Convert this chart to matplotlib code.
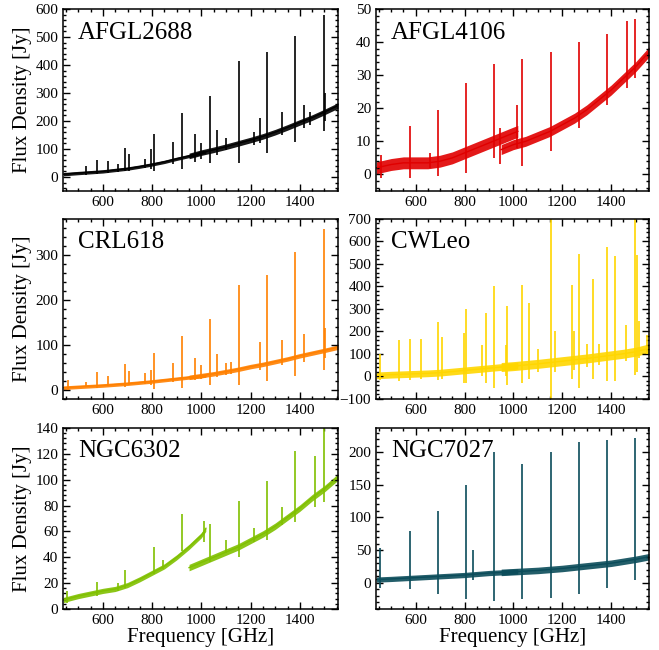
import matplotlib
matplotlib.use("Agg")
import matplotlib.pyplot as plt
from matplotlib.ticker import MultipleLocator

plt.rcParams['font.family'] = ['Liberation Serif', 'DejaVu Serif']

# frequency grids of the two detector bands (GHz)
SLW_FREQ = [440, 500, 550, 600, 650, 700, 750, 800, 850, 900, 950, 1000, 1018]
SSW_FREQ = [950, 1000, 1050, 1100, 1150, 1200, 1250, 1300, 1350, 1400, 1450, 1500, 1555]

NAMES = ["AFGL2688", "AFGL4106", "CRL618", "CWLeo", "NGC6302", "NGC7027"]
COLORS = ["#000000", "#e00000", "#ff8000", "#ffd600", "#80c000", "#0b4c5a"]

# continuum levels (Jy) on the grids above, and half-width of the noise band
afgl2688_slw = [10, 14, 17, 20, 25, 30, 37, 45, 54, 65, 75, 87, 90]
afgl2688_ssw = [75, 87, 97, 108, 120, 132, 145, 160, 177, 195, 212, 232, 255]
afgl2688_spread = [6, 10]
afgl2688_lines = [531, 576, 620, 660, 691, 708, 770, 797, 807, 886, 922, 974, 1000, 1037,
                  1062, 1100, 1152, 1215, 1239, 1267, 1327, 1382, 1416, 1440, 1497, 1504]
afgl2688_peaks = [40, 62, 58, 45, 105, 82, 65, 100, 155, 125, 230, 155, 120, 290,
                  168, 140, 415, 160, 212, 445, 232, 505, 258, 232, 580, 300]
afgl2688_dips = [8, 12, 15, 18, 20, 22, 33, 30, 20, 45, 30, 55, 65, 50,
                 80, 95, 50, 115, 120, 85, 150, 125, 175, 185, 165, 200]

afgl4106_slw = [2, 3, 3.5, 3.5, 3.5, 4, 5, 6.5, 8, 9.5, 11, 12.5, 13]
afgl4106_ssw = [7.5, 9, 10, 11.5, 13, 15, 17, 19.5, 22.5, 25.5, 29, 32.5, 37]
afgl4106_spread = [1.8, 1.5]
afgl4106_lines = [460, 576, 660, 691, 807, 922, 945, 1015, 1037, 1152, 1267, 1382, 1463, 1497]
afgl4106_peaks = [6, 14.5, 6.5, 19.5, 27.5, 33.5, 14, 21, 35, 37, 40, 42.5, 46.5, 47]
afgl4106_dips = [-1, -1, 2, -0.5, 0.5, 5, 3, 8, 2.5, 7, 14, 21, 26, 29]

crl618_slw = [5, 7, 8.5, 10, 12, 14, 16.5, 19, 22, 25, 28, 31, 32]
crl618_ssw = [28, 32, 36, 41, 46, 52, 57, 63, 69, 76, 82, 88, 95]
crl618_spread = [4, 5]
crl618_lines = [460, 531, 576, 620, 691, 708, 770, 797, 807, 886, 922, 974, 1000,
                1037, 1062, 1100, 1120, 1152, 1239, 1267, 1327, 1382, 1416, 1497, 1504]
crl618_peaks = [22, 18, 40, 30, 57, 43, 38, 45, 82, 60, 120, 70, 55,
                158, 80, 60, 62, 233, 107, 255, 110, 307, 125, 358, 138]
crl618_dips = [0, 6, 5, 8, 6, 12, 14, 12, 3, 18, 5, 22, 25,
               10, 28, 33, 35, 10, 45, 20, 55, 30, 62, 45, 70]

cwleo_slw = [5, 8, 10, 12, 14, 17, 22, 27, 32, 37, 42, 46, 48]
cwleo_ssw = [42, 46, 51, 56, 62, 68, 74, 80, 87, 94, 101, 110, 125]
cwleo_spread = [15, 20]
cwleo_lines = [455, 531, 576, 620, 691, 708, 797, 807, 870, 886, 922, 970, 975, 1037, 1062, 1100,
               1152, 1170, 1239, 1250, 1267, 1300, 1327, 1350, 1382, 1416, 1460, 1497, 1504, 1515, 1545]
cwleo_peaks = [100, 160, 165, 165, 240, 175, 195, 300, 140, 280, 400, 140, 315, 405, 325, 120,
               700, 200, 405, 200, 545, 145, 435, 145, 575, 535, 230, 700, 540, 245, 185]
cwleo_dips = [-15, -20, -15, -10, -15, -10, -30, -30, 0, -30, -50, 0, -40, -30, -10, 20,
              -100, 20, -10, 30, -50, 40, -10, 50, -20, -20, 70, 5, 20, 80, 100]

ngc6302_slw = [7, 10, 12, 14, 15.5, 18.5, 23, 28, 33, 40, 48, 57, 62]
ngc6302_ssw = [32, 36, 40, 44, 48, 53, 58, 64, 71, 78, 86, 93, 102]
ngc6302_spread = [2, 2.5]
ngc6302_lines = [455, 576, 660, 691, 807, 845, 922, 1010, 1037, 1100, 1152, 1215, 1267, 1327, 1382, 1463, 1497]
ngc6302_peaks = [14, 21, 20, 30, 48, 38, 73.5, 68, 66, 53, 83.5, 63, 99, 79, 122, 118.5, 141]
ngc6302_dips = [5, 10, 14, 16, 27, 31, 45, 52, 36, 43, 40, 52, 53, 65, 67, 79, 83]

ngc7027_slw = [5, 6, 7, 8, 9, 10, 11, 12, 13.5, 15, 16, 17, 17.5]
ngc7027_ssw = [16, 17, 18, 19, 20.5, 22, 24, 26, 28, 30, 33, 36, 40]
ngc7027_spread = [4, 5]
ngc7027_lines = [455, 576, 691, 807, 835, 922, 1037, 1152, 1267, 1382, 1497]
ngc7027_peaks = [53, 80, 110, 150, 51, 200, 182, 200, 216, 218, 222]
ngc7027_dips = [-8, -10, -17, -25, 5, -28, -25, -23, -17, -8, 5]

SOURCES = [
    (afgl2688_slw, afgl2688_ssw, afgl2688_spread, afgl2688_lines, afgl2688_peaks, afgl2688_dips),
    (afgl4106_slw, afgl4106_ssw, afgl4106_spread, afgl4106_lines, afgl4106_peaks, afgl4106_dips),
    (crl618_slw, crl618_ssw, crl618_spread, crl618_lines, crl618_peaks, crl618_dips),
    (cwleo_slw, cwleo_ssw, cwleo_spread, cwleo_lines, cwleo_peaks, cwleo_dips),
    (ngc6302_slw, ngc6302_ssw, ngc6302_spread, ngc6302_lines, ngc6302_peaks, ngc6302_dips),
    (ngc7027_slw, ngc7027_ssw, ngc7027_spread, ngc7027_lines, ngc7027_peaks, ngc7027_dips),
]

YLIMS = [(-50, 600), (-5, 50), (-20, 380), (-100, 700), (0, 140), (-40, 237)]
YMAJOR = [100, 10, 100, 100, 20, 50]
YMINOR = [20, 2, 20, 20, 4, 10]

# axes boxes in figure fractions [left, bottom, width, height]
COLS = [(0.0956, 0.4173), (0.5706, 0.4143)]
ROWS = [(0.7062, 0.2800), (0.3862, 0.2769), (0.0631, 0.2785)]

fig = plt.figure(figsize=(6.59, 6.50), dpi=100)

for i, name in enumerate(NAMES):
    r, c = divmod(i, 2)
    ax = fig.add_axes([COLS[c][0], ROWS[r][0], COLS[c][1], ROWS[r][1]])
    slw, ssw, spread, lines, peaks, dips = SOURCES[i]
    col = COLORS[i]

    for freq, cont, sp in [(SLW_FREQ, slw, spread[0]), (SSW_FREQ, ssw, spread[1])]:
        lo = [v - sp for v in cont]
        hi = [v + sp for v in cont]
        ax.fill_between(freq, lo, hi, color=col, lw=0, alpha=0.9)
        ax.plot(freq, cont, color=col, lw=1)
    ax.vlines(lines, dips, peaks, color=col, lw=1.2)

    ax.set_xlim(438, 1555)
    ax.set_ylim(*YLIMS[i])
    ax.xaxis.set_major_locator(MultipleLocator(200))
    ax.xaxis.set_minor_locator(MultipleLocator(50))
    ax.yaxis.set_major_locator(MultipleLocator(YMAJOR[i]))
    ax.yaxis.set_minor_locator(MultipleLocator(YMINOR[i]))
    ax.tick_params(which='both', direction='in', top=True, right=True, labelsize=11, width=1)
    ax.tick_params(which='major', length=5)
    ax.tick_params(which='minor', length=2.5)
    for s in ax.spines.values():
        s.set_linewidth(1.1)

    ax.text(0.055, 0.87, name, transform=ax.transAxes, fontsize=18, va='center', ha='left')
    if c == 0:
        ax.set_ylabel("Flux Density [Jy]", fontsize=15, labelpad=2)
    if r == 2:
        ax.set_xlabel("Frequency [GHz]", fontsize=15, labelpad=1)

fig.savefig("out.png", dpi=100)
